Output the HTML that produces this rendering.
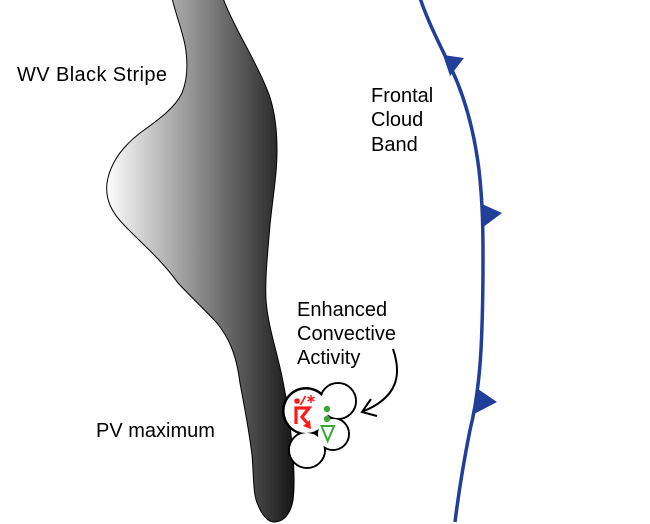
<!DOCTYPE html>
<html><head><meta charset="utf-8"><style>
html,body{margin:0;padding:0;background:#fff;}
svg{display:block;}
text{font-family:"Liberation Sans",Arial,sans-serif;font-size:20px;fill:#000;}
</style></head><body>
<svg width="650" height="524" viewBox="0 0 650 524" xmlns="http://www.w3.org/2000/svg">
<defs>
<linearGradient id="g" gradientUnits="userSpaceOnUse" x1="105" y1="0" x2="295" y2="0">
<stop offset="0" stop-color="#ffffff"/>
<stop offset="0.5" stop-color="#8a8a8a"/>
<stop offset="0.75" stop-color="#505050"/>
<stop offset="1" stop-color="#151515"/>
</linearGradient>
</defs>
<path d="M172,-2 C176,15 182,30 185,45 C188,62 188,78 182,93 C175,108 158,120 140,133 C122,147 110,163 107,183 C105,200 112,213 125,226 C140,242 160,258 178,283 C192,298 205,310 217,323 C228,337 236,352 240,383 C245,410 249,430 252,455 C254,480 253,495 258,505 C262,515 268,522 274,522 C285,522 291,512 293,500 C295,485 294,465 292,445 C290,420 286,395 281,372 C275,345 268,325 266,300 C265,280 267,260 270,225 C273,195 277,175 277,150 C277,125 274,105 266,87 C257,65 245,45 236,27 C230,15 226,7 223,-2 Z" fill="url(#g)" stroke="#000" stroke-width="1"/>
<path d="M420,-2 C428,22 440,45 452,70 C465,98 474,130 479,170 C483,205 483,235 483,260 C483,300 482,330 481,350 C479,385 475,410 470,430 C464,460 459,490 455,522" fill="none" stroke="#213f99" stroke-width="3.5"/>
<polygon points="443,55 464,58 450,76" fill="#213f99"/>
<polygon points="482,204 502,213 482,228" fill="#213f99"/>
<polygon points="478,389 497,402 474,414" fill="#213f99"/>
<g fill="#fff" stroke="#000" stroke-width="2">
<circle cx="307" cy="450" r="18"/>
<circle cx="333" cy="434" r="16"/>
<circle cx="338" cy="401" r="18"/>
<circle cx="306" cy="411" r="23"/>
</g>
<g fill="#fff" stroke="none">
<circle cx="307" cy="450" r="17"/>
<circle cx="333" cy="434" r="15"/>
<circle cx="338" cy="401" r="17"/>
</g>
<circle cx="306" cy="411" r="23" fill="none" stroke="#000" stroke-width="2" stroke-dasharray="0 40 80 200" transform="rotate(0 306 411)" opacity="0"/>
<path d="M300,433 A23,23 0 0 1 290,395 A23,23 0 0 1 322,395" fill="none" stroke="#000" stroke-width="2"/>
<g fill="#ff1a1a" stroke="#ff1a1a">
<circle cx="297" cy="401" r="2.8" stroke="none"/>
<line x1="300.5" y1="405" x2="305.5" y2="396" stroke-width="1.8"/>
<g stroke-width="1.5"><line x1="311" y1="395" x2="311" y2="403"/><line x1="307.5" y1="397" x2="314.5" y2="401"/><line x1="307.5" y1="401" x2="314.5" y2="397"/></g>
<polyline points="296,424 296,408 309,408 302,417 308,424" fill="none" stroke-width="3.2"/>
<polygon points="311,429 303,426 310,420" stroke="none"/>
</g>
<circle cx="327" cy="409" r="3.2" fill="#3aaa35"/>
<circle cx="327" cy="419" r="3.2" fill="#3aaa35"/>
<polygon points="321.5,426 334,426 327.7,441" fill="none" stroke="#3aaa35" stroke-width="2"/>
<path d="M393,349 C401,372 400,396 364,411" fill="none" stroke="#000" stroke-width="2"/>
<polyline points="371,399 362,412 377,416" fill="none" stroke="#000" stroke-width="2"/>
<text x="17" y="81" textLength="150" lengthAdjust="spacing">WV Black Stripe</text>
<text x="371" y="102">Frontal</text>
<text x="371" y="126">Cloud</text>
<text x="371" y="151">Band</text>
<text x="297" y="316">Enhanced</text>
<text x="297" y="340">Convective</text>
<text x="297" y="364">Activity</text>
<text x="96" y="437">PV maximum</text>
</svg>
</body></html>
